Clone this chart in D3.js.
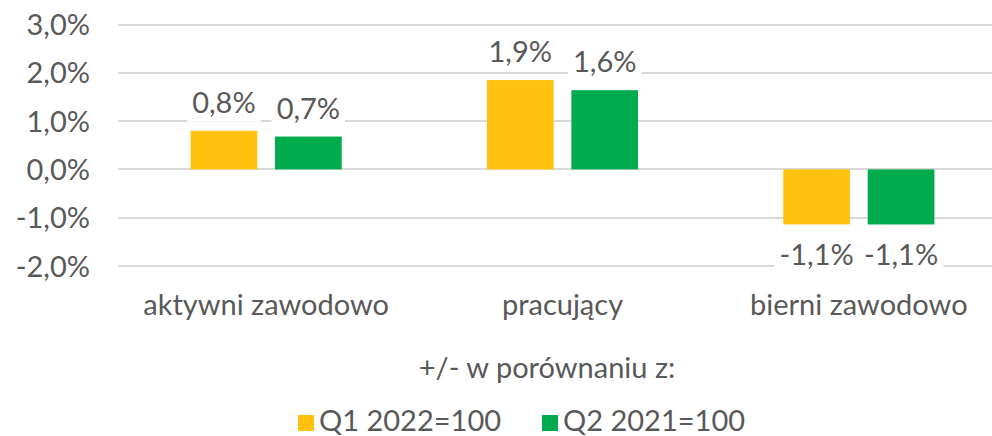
<!DOCTYPE html>
<html>
<head>
<meta charset="utf-8">
<script src="https://cdn.jsdelivr.net/npm/d3@7"></script>
<style>
  body { margin: 0; background: #fff; }
  svg text { font-family: Lato, sans-serif; fill: #595959; font-size: 29px; }
</style>
</head>
<body>
<div id="chart"></div>
<script>
var categories = ['aktywni zawodowo', 'pracujący', 'bierni zawodowo'];
var seriesNames = ['Q1 2022=100', 'Q2 2021=100'];
var q1Values = [0.8, 1.85, -1.14];
var q2Values = [0.68, 1.64, -1.14];
var q1Labels = ['0,8%', '1,9%', '-1,1%'];
var q2Labels = ['0,7%', '1,6%', '-1,1%'];
var yTicks = [-2, -1, 0, 1, 2, 3];
var colors = ['#FFC20E', '#00AB4E'];

var width = 992, height = 436;

var svg = d3.select('#chart')
    .append('svg')
    .attr('width', width)
    .attr('height', height);

var x = d3.scaleBand()
    .domain(categories)
    .range([118, 1007]);

var x1 = d3.scaleBand()
    .domain(seriesNames)
    .range([0, x.bandwidth()])
    .paddingInner(0.21)
    .paddingOuter(0.86);

var y = d3.scaleLinear()
    .domain([-2, 3])
    .range([266, 24.5]);

// gridlines
svg.append('g')
    .selectAll('line')
    .data(yTicks)
    .enter()
    .append('line')
    .attr('x1', 118)
    .attr('x2', 1007)
    .attr('y1', function (d) { return Math.round(y(d)); })
    .attr('y2', function (d) { return Math.round(y(d)); })
    .attr('stroke', '#d9d9d9')
    .attr('stroke-width', 2);

// y axis labels
svg.append('g')
    .selectAll('text')
    .data(yTicks)
    .enter()
    .append('text')
    .attr('x', 90)
    .attr('y', function (d) { return y(d) + 10.5; })
    .attr('text-anchor', 'end')
    .text(function (d) { return d.toFixed(1).replace('.', ',') + '%'; });

var flat = [];
categories.forEach(function (c, i) {
    flat.push({ cat: c, s: seriesNames[0], v: q1Values[i], label: q1Labels[i], color: colors[0] });
    flat.push({ cat: c, s: seriesNames[1], v: q2Values[i], label: q2Labels[i], color: colors[1] });
});

var groups = svg.append('g');

groups.selectAll('rect.bar')
    .data(flat)
    .enter()
    .append('rect')
    .attr('class', 'bar')
    .attr('x', function (d) { return x(d.cat) + x1(d.s); })
    .attr('width', x1.bandwidth())
    .attr('y', function (d) { return y(Math.max(0, d.v)); })
    .attr('height', function (d) { return Math.abs(y(d.v) - y(0)); })
    .attr('fill', function (d) { return d.color; });

// data labels with white background
var lbl = groups.selectAll('g.lbl')
    .data(flat)
    .enter()
    .append('g')
    .attr('class', 'lbl')
    .attr('transform', function (d) {
        var cx = x(d.cat) + x1(d.s) + x1.bandwidth() / 2;
        var cy = d.v >= 0 ? y(d.v) - 18 : y(d.v) + 41;
        return 'translate(' + cx + ',' + cy + ')';
    });

var bgs = lbl.append('rect').attr('fill', '#fff');

lbl.append('text')
    .attr('text-anchor', 'middle')
    .text(function (d) { return d.label; })
    .each(function () {
        var b = this.getBBox();
        d3.select(this.previousSibling)
            .attr('x', b.x - 5)
            .attr('y', b.y - 3)
            .attr('width', b.width + 10)
            .attr('height', b.height + 6);
    });

// category labels
svg.append('g')
    .selectAll('text')
    .data(categories)
    .enter()
    .append('text')
    .attr('x', function (d) { return x(d) + x.bandwidth() / 2; })
    .attr('y', 315)
    .attr('text-anchor', 'middle')
    .text(function (d) { return d; });

// axis title
svg.append('text')
    .attr('x', 547)
    .attr('y', 378)
    .attr('text-anchor', 'middle')
    .text('+/- w porównaniu z:');

// legend
var legendX = [298, 542];
var legend = svg.append('g')
    .selectAll('g')
    .data(seriesNames)
    .enter()
    .append('g')
    .attr('transform', function (d, i) { return 'translate(' + legendX[i] + ',0)'; });

legend.append('rect')
    .attr('x', 0)
    .attr('y', 415)
    .attr('width', 16)
    .attr('height', 16)
    .attr('fill', function (d, i) { return colors[i]; });

legend.append('text')
    .attr('x', 21)
    .attr('y', 431)
    .text(function (d) { return d; });
</script>
</body>
</html>
